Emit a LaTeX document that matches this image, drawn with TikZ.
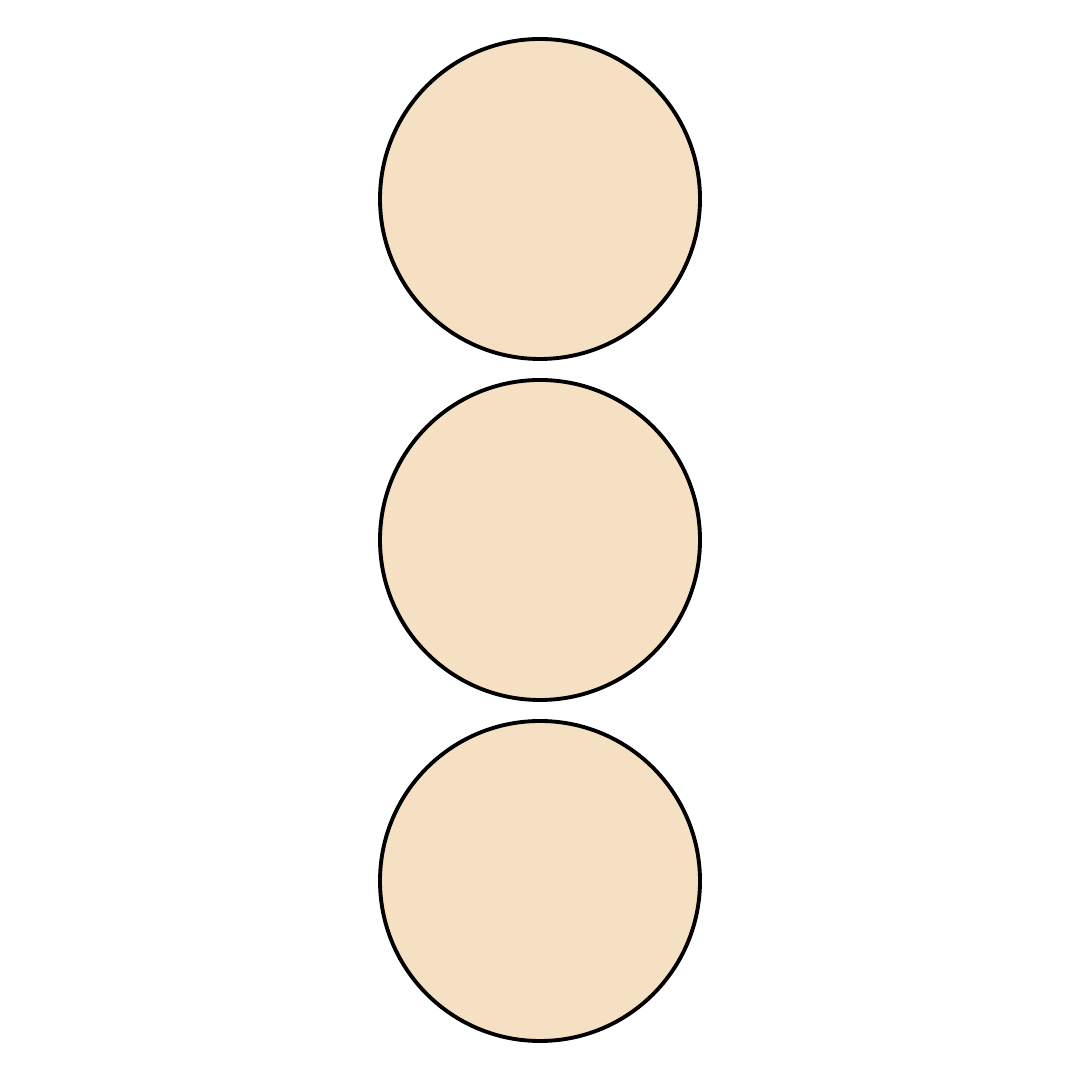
\documentclass[tikz,border=0pt]{standalone}
\usepackage{xcolor}
\definecolor{custom-wheat}{RGB}{246, 224, 196}

\begin{document}
\begin{tikzpicture}
\useasboundingbox (0,0) rectangle (10.8,10.8);

\filldraw[fill=custom-wheat, draw=black, line width=1.1pt] (5.4,8.81) circle (1.6);
\filldraw[fill=custom-wheat, draw=black, line width=1.1pt] (5.4,5.4) circle (1.6);
\filldraw[fill=custom-wheat, draw=black, line width=1.1pt] (5.4,1.99) circle (1.6);

\end{tikzpicture}
\end{document}
